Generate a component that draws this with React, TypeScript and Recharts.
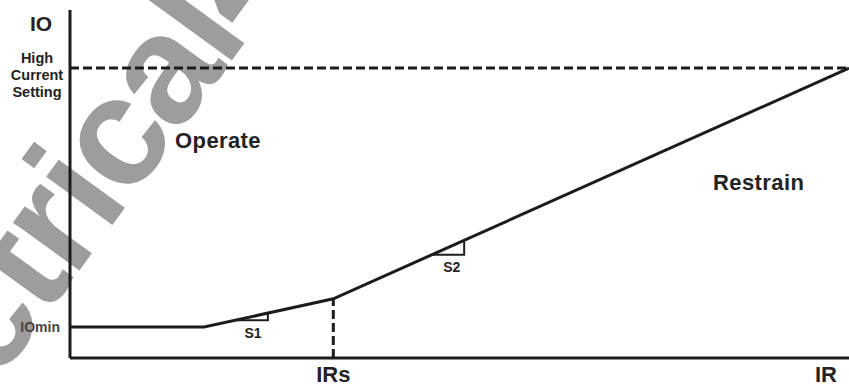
import { LineChart, Line, XAxis, YAxis, ReferenceLine, ReferenceDot } from "recharts";

// restraint current IR (x) vs operating current IO (y), arbitrary units 0..100
const irPoints = [0, 17.2, 33.8, 100];
const ioPoints = [8.9, 8.9, 17.0, 83.3];

const ioMin = 8.9;
const highCurrentSetting = 83.3;
const irsValue = 33.8;
const irMax = 100;

// slope marker triangles
const s1Ir = [21.2, 25.4, 25.4, 21.2];
const s1Io = [10.85, 10.85, 12.9, 10.85];
const s2Ir = [46.5, 50.6, 50.6, 46.5];
const s2Io = [29.7, 29.7, 33.8, 29.7];

const xTickValues = [irsValue, irMax];
const xTickLabels = ["IRs", "IR"];

const textLabels = [
  { text: "S1", ir: 23.5, io: 7.2, size: 14 },
  { text: "S2", ir: 49.0, io: 26.1, size: 14 },
  { text: "Operate", ir: 19.0, io: 62.4, size: 22 },
  { text: "Restrain", ir: 88.4, io: 50.3, size: 22 },
];

const toRows = (xs: number[], ys: number[]) => xs.map((ir, i) => ({ ir, io: ys[i] }));

const characteristic = toRows(irPoints, ioPoints);
const s1Rows = toRows(s1Ir, s1Io);
const s2Rows = toRows(s2Ir, s2Io);

const INK = "#1c1c1c";
const TEXT = "#232323";
const FONT = "'Liberation Sans', Arial, sans-serif";

function XTick(props: any) {
  const { x, y, payload } = props;
  const idx = xTickValues.indexOf(payload.value);
  const last = idx === xTickValues.length - 1;
  return (
    <text
      x={x}
      y={y + 16}
      textAnchor={last ? "end" : "middle"}
      fontFamily={FONT}
      fontWeight="bold"
      fontSize={22}
      fill={TEXT}
    >
      {xTickLabels[idx]}
    </text>
  );
}

function YTick(props: any) {
  const { x, y, payload } = props;
  if (payload.value === ioMin) {
    return (
      <text x={x - 2} y={y + 5} textAnchor="end" fontFamily={FONT} fontWeight="bold" fontSize={14} fill="#444">
        IOmin
      </text>
    );
  }
  const lines = ["High", "Current", "Setting"];
  return (
    <g>
      {lines.map((l, i) => (
        <text
          key={l}
          x={x - 25}
          y={y - 5 + i * 17}
          textAnchor="middle"
          fontFamily={FONT}
          fontWeight="bold"
          fontSize={14.5}
          fill={TEXT}
        >
          {l}
        </text>
      ))}
    </g>
  );
}

// faint site watermark running diagonally behind the plot
function Watermark() {
  return (
    <svg width={849} height={385} style={{ position: "absolute", left: 0, top: 0 }}>
      <text
        x={-123}
        y={549}
        transform="rotate(-54 -123 549)"
        fontFamily={FONT}
        fontWeight="bold"
        fontSize={155}
        letterSpacing={-4}
        fill="#9d9d9d"
      >
        electrical4u
      </text>
    </svg>
  );
}

export default function App() {
  return (
    <div style={{ position: "absolute", left: 0, top: 0, width: 849, height: 385, background: "#fff" }}>
      <Watermark />
      <div style={{ position: "absolute", left: 0, top: 0 }}>
        <LineChart width={849} height={385} margin={{ top: 10, right: 0, bottom: 0, left: 0 }}>
          <XAxis
            type="number"
            dataKey="ir"
            domain={[0, irMax]}
            ticks={xTickValues}
            tick={<XTick />}
            tickLine={false}
            axisLine={{ stroke: INK, strokeWidth: 3 }}
            height={27}
            allowDataOverflow
          />
          <YAxis
            type="number"
            dataKey="io"
            domain={[0, 100]}
            ticks={[ioMin, highCurrentSetting]}
            tick={<YTick />}
            tickLine={false}
            axisLine={{ stroke: INK, strokeWidth: 3 }}
            width={70}
            interval={0}
            label={{
              content: (p: any) => (
                <text
                  x={41}
                  y={p.viewBox.y + 21}
                  textAnchor="middle"
                  fontFamily={FONT}
                  fontWeight="bold"
                  fontSize={21}
                  fill={TEXT}
                >
                  IO
                </text>
              ),
            }}
          />
          <ReferenceLine
            y={highCurrentSetting}
            stroke={INK}
            strokeWidth={3}
            strokeDasharray="9 4"
          />
          <ReferenceLine
            segment={[
              { x: irsValue, y: 0 },
              { x: irsValue, y: ioPoints[2] },
            ]}
            stroke={INK}
            strokeWidth={3}
            strokeDasharray="9 4"
          />
          <Line
            data={characteristic}
            dataKey="io"
            stroke={INK}
            strokeWidth={3}
            dot={false}
            isAnimationActive={false}
          />
          <Line data={s1Rows} dataKey="io" stroke={INK} strokeWidth={2} dot={false} isAnimationActive={false} />
          <Line data={s2Rows} dataKey="io" stroke={INK} strokeWidth={2} dot={false} isAnimationActive={false} />
          {textLabels.map((t) => (
            <ReferenceDot
              key={t.text}
              x={t.ir}
              y={t.io}
              r={0}
              shape={(p: any) => (
                <text
                  x={p.cx}
                  y={p.cy}
                  textAnchor="middle"
                  dominantBaseline="central"
                  fontFamily={FONT}
                  fontWeight="bold"
                  fontSize={t.size}
                  letterSpacing={t.size > 20 ? 0.4 : 0}
                  fill={TEXT}
                >
                  {t.text}
                </text>
              )}
            />
          ))}
        </LineChart>
      </div>
    </div>
  );
}
